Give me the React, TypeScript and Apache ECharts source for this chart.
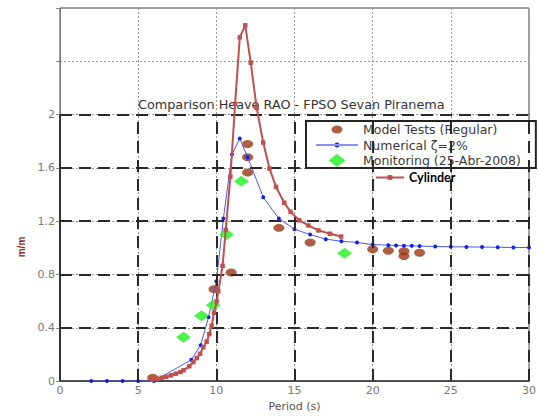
import { useEffect, useRef } from 'react';
import * as echarts from 'echarts';

// Axis settings
const xMin = 0;
const xMax = 30;
const xInterval = 5;
const yMin = 0;
const yMax = 2.8;
const yInterval = 0.4;
const yLabelMax = 2;

// Model tests (regular waves)
const modelPeriods = [5.93, 9.85, 10.95, 12.0, 12.0, 12.0, 14.0, 16.0, 20.0, 21.0, 22.0, 22.0, 23.0];
const modelRao = [0.025, 0.69, 0.815, 1.78, 1.68, 1.565, 1.15, 1.04, 0.99, 0.978, 0.975, 0.938, 0.963];

// Numerical, zeta = 2%
const numPeriods = [2, 3, 4, 5, 6, 8.4, 9.0, 9.5, 10.0, 10.45, 11.0, 11.5, 12.0, 13, 14, 15, 16, 17, 18, 19, 20, 21, 21.5, 22, 22.5, 23, 24, 25, 26, 27, 28, 29, 30];
const numRao = [0, 0, 0, 0, 0, 0.16, 0.27, 0.48, 0.75, 1.22, 1.70, 1.82, 1.68, 1.38, 1.22, 1.14, 1.10, 1.065, 1.05, 1.04, 1.025, 1.02, 1.018, 1.015, 1.015, 1.013, 1.01, 1.008, 1.007, 1.006, 1.004, 1.003, 1.002];

// Monitoring (25-Abr-2008)
const monPeriods = [7.9, 9.05, 9.8, 10.65, 11.6, 18.2];
const monRao = [0.33, 0.49, 0.57, 1.1, 1.5, 0.96];

// Cylinder
const cylPeriods = [5.9, 6.2, 6.5, 6.8, 7.1, 7.4, 7.7, 7.9, 8.27, 8.53, 8.75, 8.96, 9.17, 9.38, 9.55, 9.7, 9.85, 10.02, 10.13, 10.4, 10.6, 10.9, 11.2, 11.5, 11.85, 12.2, 12.58, 13.0, 13.4, 13.82, 14.35, 14.75, 15.3, 15.89, 16.53, 17.27, 17.98];
const cylRao = [0.012, 0.018, 0.025, 0.033, 0.043, 0.055, 0.068, 0.081, 0.111, 0.143, 0.173, 0.205, 0.254, 0.296, 0.353, 0.415, 0.513, 0.6, 0.674, 0.865, 1.135, 1.535, 2.08, 2.58, 2.67, 2.39, 2.05, 1.79, 1.595, 1.457, 1.338, 1.27, 1.207, 1.168, 1.131, 1.106, 1.085];

const titleText = 'Comparison Heave RAO - FPSO Sevan Piranema';
const xName = 'Period (s)';
const yName = 'm/m';
const nameModel = 'Model Tests (Regular)';
const nameNum = 'Numerical ζ=2%';
const nameMon = 'Monitoring (25-Abr-2008)';
const nameCyl = 'Cylinder';

const zip = (a: number[], b: number[]) => a.map((v, i) => [v, b[i]]);

// Legend icons (zero-length sub-paths pad the bounding box so the drawn shape keeps its size)
const iconModel = 'path://M0,6.5A5.5,4 0 1 0 11,6.5A5.5,4 0 1 0 0,6.5Z M5.5,0L5.5,0 M5.5,13L5.5,13';
const iconNum = 'path://M0,6L42,6L42,7L0,7Z M18.5,6.5A2.5,2.5 0 1 0 23.5,6.5A2.5,2.5 0 1 0 18.5,6.5Z M21,0L21,0 M21,13L21,13';
const iconMon = 'path://M0,6.5L8.5,0L17,6.5L8.5,13Z';

export default function App() {
  const ref = useRef<HTMLDivElement>(null);
  useEffect(() => {
    const chart = echarts.init(ref.current!, null, { renderer: 'svg' });
    const font = 'DejaVu Sans';

    const hVals: number[] = [];
    for (let v = yInterval; v <= yLabelMax + 1e-9; v += yInterval) hVals.push(+v.toFixed(2));
    const vVals: number[] = [];
    for (let v = xInterval; v <= xMax + 1e-9; v += xInterval) vVals.push(v);

    const dashStyle = { color: '#2a2a2a', width: 2, type: [12, 7] as any };
    const gridLines: any[] = [
      ...hVals.map((v) => [{ coord: [xMin, v], lineStyle: dashStyle }, { coord: [xMax, v] }]),
      ...vVals.map((v) => [{ coord: [v, yMin], lineStyle: dashStyle }, { coord: [v, yLabelMax] }]),
      [{ coord: [xMin, yMin], lineStyle: { color: '#333', width: 2, type: 'solid' } }, { coord: [xMin, yLabelMax] }],
    ];

    const option: any = {
      animation: false,
      backgroundColor: '#fff',
      title: {
        text: titleText,
        left: 138,
        top: 98,
        padding: 0,
        textStyle: { fontFamily: font, fontSize: 12.8, fontWeight: 'normal', color: '#333' },
      },
      grid: {
        left: 60,
        top: 8,
        width: 469,
        height: 378,
        show: true,
        borderColor: '#444',
        borderWidth: 1,
      },
      legend: [
        {
          left: 306,
          top: 121,
          orient: 'vertical',
          padding: [2, 15, 1, 10],
          itemGap: 2.5,
          itemWidth: 42,
          itemHeight: 13,
          backgroundColor: '#fff',
          borderColor: '#222',
          borderWidth: 2,
          selectedMode: false,
          textStyle: { fontFamily: font, fontSize: 12.5, color: '#3a3a3a', lineHeight: 13 },
          data: [
            { name: nameModel, icon: iconModel },
            { name: nameNum, icon: iconNum },
            { name: nameMon, icon: iconMon },
          ],
        },
        {
          left: 375,
          top: 171,
          padding: 0,
          itemWidth: 28,
          itemHeight: 6,
          selectedMode: false,
          textStyle: { fontFamily: 'Lato', fontSize: 12.5, fontWeight: 'bold', color: '#000' },
          data: [nameCyl],
        },
      ],
      xAxis: {
        type: 'value',
        min: xMin,
        max: xMax,
        interval: xInterval,
        name: xName,
        nameLocation: 'middle',
        nameGap: 19,
        nameTextStyle: { fontFamily: font, fontSize: 11, color: '#555' },
        axisLine: { lineStyle: { color: '#333', width: 1.5 } },
        axisTick: { show: false },
        axisLabel: { fontFamily: font, fontSize: 11, color: '#777', margin: 4 },
        splitLine: { show: true, lineStyle: { color: '#999', width: 1, type: [2, 2] } },
      },
      yAxis: {
        type: 'value',
        min: yMin,
        max: yMax,
        interval: yInterval,
        axisLine: { show: true, lineStyle: { color: '#777', width: 1 } },
        axisTick: { show: true, length: 4, lineStyle: { color: '#888' } },
        axisLabel: {
          fontFamily: font,
          fontSize: 11,
          color: '#777',
          margin: 5,
          formatter: (v: number) => (v <= yLabelMax + 1e-9 ? String(+v.toFixed(1)) : ''),
        },
        splitLine: { show: true, lineStyle: { color: '#999', width: 1, type: [2, 2] } },
      },
      graphic: [
        {
          type: 'text',
          x: 21,
          y: 247,
          rotation: Math.PI / 2,
          style: {
            text: yName,
            fontFamily: 'Liberation Sans',
            fontSize: 10,
            fontWeight: 'bold',
            fill: '#8b2a2a',
            align: 'center',
            verticalAlign: 'middle',
          },
        },
      ],
      series: [
        {
          name: 'grid',
          type: 'line',
          data: [],
          z: 1,
          silent: true,
          markLine: {
            silent: true,
            symbol: ['none', 'none'],
            label: { show: false },
            animation: false,
            data: gridLines,
          },
        },
        {
          name: nameModel,
          type: 'scatter',
          z: 3,
          symbol: 'circle',
          symbolSize: [11, 8],
          itemStyle: { color: '#9a3412' },
          data: zip(modelPeriods, modelRao),
        },
        {
          name: nameNum,
          type: 'line',
          z: 4,
          symbol: 'circle',
          symbolSize: 4,
          showAllSymbol: true,
          lineStyle: { color: '#4a5af5', width: 1 },
          itemStyle: { color: '#1420e8' },
          data: zip(numPeriods, numRao),
        },
        {
          name: nameMon,
          type: 'scatter',
          z: 5,
          symbol: 'diamond',
          symbolSize: [15, 11],
          itemStyle: { color: '#1ef01e' },
          data: zip(monPeriods, monRao),
        },
        {
          name: nameCyl,
          type: 'line',
          z: 6,
          symbol: 'rect',
          symbolSize: 4.5,
          showAllSymbol: true,
          lineStyle: { color: '#c0504d', width: 2 },
          itemStyle: { color: '#c0504d' },
          data: zip(cylPeriods, cylRao),
        },
      ],
    };
    chart.setOption(option);
    return () => chart.dispose();
  }, []);
  return (
    <div
      ref={ref}
      style={{ position: 'fixed', left: 0, top: 0, width: 540, height: 417, background: '#fff' }}
    />
  );
}
